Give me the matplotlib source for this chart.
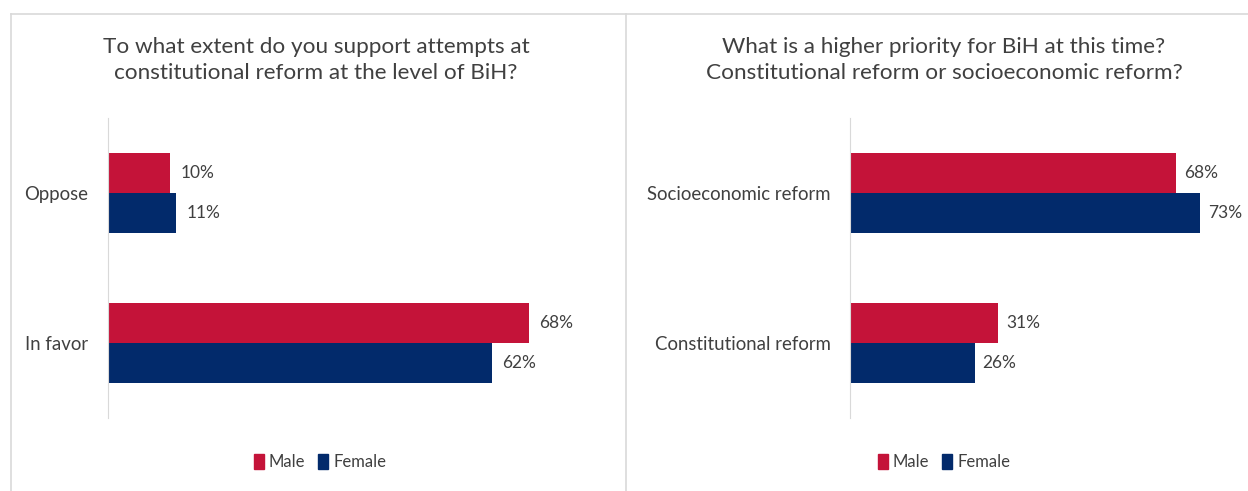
import matplotlib.pyplot as plt
from matplotlib.lines import Line2D
from matplotlib.patches import Patch

plt.rcParams['font.family'] = ['Lato', 'DejaVu Sans']

# survey results, percent
support_cats = ["Oppose", "In favor"]
support_male = [10, 68]
support_female = [11, 62]

priority_cats = ["Socioeconomic reform", "Constitutional reform"]
priority_male = [68, 31]
priority_female = [73, 26]

titles = [
    "To what extent do you support attempts at\nconstitutional reform at the level of BiH?",
    "What is a higher priority for BiH at this time?\nConstitutional reform or socioeconomic reform?",
]

RED = "#C41339"
NAVY = "#022A6B"
TXT = "#404040"
GRID = "#D9D9D9"

W, H = 1248, 491
fig = plt.figure(figsize=(W / 100, H / 100), dpi=100)


def px_axes(x0, y_top, w, h):
    return fig.add_axes([x0 / W, (H - y_top - h) / H, w / W, h / H])


def draw_panel(ax, cats, male, female, title, title_x, legend_x):
    bh = 0.265
    ys = list(range(len(cats)))
    ax.barh([y - bh / 2 for y in ys], male, height=bh, color=RED)
    ax.barh([y + bh / 2 for y in ys], female, height=bh, color=NAVY)
    for y, m, f in zip(ys, male, female):
        ax.text(m + 1.7, y - bh / 2, f"{m}%", va="center", ha="left",
                fontsize=12.5, color=TXT)
        ax.text(f + 1.7, y + bh / 2, f"{f}%", va="center", ha="left",
                fontsize=12.5, color=TXT)
    ax.set_ylim(1.5, -0.5)
    ax.set_xlim(0, 80)
    ax.set_yticks(ys)
    ax.set_yticklabels(cats, fontsize=13.4, color=TXT)
    ax.set_xticks([])
    ax.tick_params(axis="y", length=0, pad=14)
    for s in ["top", "right", "bottom"]:
        ax.spines[s].set_visible(False)
    ax.spines["left"].set_color(GRID)
    fig.text(title_x / W, 1 - 60 / H, title, ha="center", va="center",
             fontsize=16.2, color=TXT, linespacing=1.35)
    handles = [Patch(color=RED, label="Male"), Patch(color=NAVY, label="Female")]
    fig.legend(handles=handles, loc="center", ncol=2, frameon=False,
               bbox_to_anchor=(legend_x / W, 1 - 462 / H), fontsize=12,
               handlelength=0.6, handleheight=1.0, handletextpad=0.3,
               columnspacing=0.8, labelcolor=TXT)


ax1 = px_axes(108, 118, 80 * 6.19, 300)
draw_panel(ax1, support_cats, support_male, support_female, titles[0], 316, 320)

ax2 = px_axes(850, 118, 80 * 4.79, 300)
draw_panel(ax2, priority_cats, priority_male, priority_female, titles[1], 944, 944)

# panel frame lines
for xs, ys in [((11, 11), (14, H)), ((11, W), (14, 14)), ((626, 626), (14, H))]:
    fig.add_artist(Line2D([x / W for x in xs], [1 - y / H for y in ys],
                          color=GRID, lw=1.2))

fig.savefig("out.png", dpi=100)
